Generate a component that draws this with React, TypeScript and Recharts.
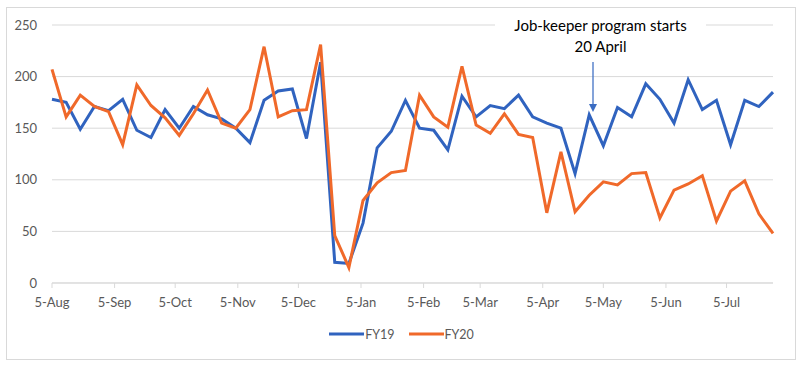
import React from "react";
import { LineChart, Line, XAxis, YAxis, CartesianGrid, Legend } from "recharts";

// weekly points, as day offsets from 5-Aug
const weekDays = Array.from({ length: 52 }, (_, i) => i * 7);

const fy19 = [
  178, 175, 149, 171, 167, 178, 148, 141, 168, 150, 171, 163, 159, 150, 136, 177,
  186, 188, 140, 214, 20, 19, 58, 131, 147, 177, 150, 148, 129, 181, 161, 172,
  169, 182, 161, 155, 150, 106, 163, 133, 170, 161, 193, 178, 155, 197, 168, 177,
  134, 177, 171, 185,
];

const fy20 = [
  207, 161, 182, 171, 166, 134, 192, 172, 160, 143, 164, 187, 155, 150, 168, 229,
  161, 167, 168, 231, 46, 15, 80, 97, 107, 109, 182, 161, 151, 210, 153, 145,
  164, 144, 141, 68, 127, 69, 85, 98, 95, 106, 107, 63, 90, 96, 104, 60,
  89, 99, 67, 48,
];

const tickDays = [0, 31, 61, 92, 122, 153, 184, 212, 243, 273, 304, 334];
const tickLabels = ["5-Aug", "5-Sep", "5-Oct", "5-Nov", "5-Dec", "5-Jan", "5-Feb", "5-Mar", "5-Apr", "5-May", "5-Jun", "5-Jul"];
const yTicks = [0, 50, 100, 150, 200, 250];

const BLUE = "#3063bf";
const ORANGE = "#f0692a";
const FONT = "Lato, 'Noto Sans', sans-serif";

const data = weekDays.map((day, i) => ({ day, FY19: fy19[i], FY20: fy20[i] }));

function formatDay(value: number) {
  const idx = tickDays.indexOf(value);
  return idx >= 0 ? tickLabels[idx] : "";
}

function LegendContent() {
  const items = [
    { name: "FY19", color: BLUE },
    { name: "FY20", color: ORANGE },
  ];
  return (
    <div style={{ display: "flex", justifyContent: "center", alignItems: "center", height: 20, paddingLeft: 3, fontFamily: FONT, fontSize: 12.5, color: "#595959" }}>
      {items.map((it) => (
        <div key={it.name} style={{ display: "flex", alignItems: "center", margin: "0 7px" }}>
          <svg width={35} height={4} style={{ marginRight: 1 }}>
            <line x1={0} y1={2} x2={35} y2={2} stroke={it.color} strokeWidth={3} />
          </svg>
          <span>{it.name}</span>
        </div>
      ))}
    </div>
  );
}

export default function App() {
  return (
    <div style={{ position: "absolute", left: 0, top: 0, width: 800, height: 366, background: "#fff", fontFamily: FONT }}>
      <div style={{ position: "absolute", left: 6, top: 7, width: 788, height: 351, border: "1px solid #d9d9d9" }} />
      <div style={{ position: "absolute", left: 0, top: 0 }}>
        <LineChart width={800} height={366} data={data} margin={{ top: 25, right: 27, bottom: 22, left: 0 }}>
          <CartesianGrid vertical={false} stroke="#d9d9d9" />
          <XAxis
            dataKey="day"
            type="number"
            domain={[0, 357]}
            ticks={tickDays}
            tickFormatter={formatDay}
            interval={0}
            height={41}
            stroke="#d9d9d9"
            tickSize={5}
            tickMargin={10}
            tick={{ fill: "#595959", fontSize: 13, fontFamily: FONT }}
          />
          <YAxis
            domain={[0, 250]}
            ticks={yTicks}
            width={52}
            axisLine={false}
            tickLine={false}
            tickSize={0}
            tickMargin={15}
            tick={{ fill: "#595959", fontSize: 13, fontFamily: FONT }}
          />
          <Legend
            verticalAlign="bottom"
            height={20}
            wrapperStyle={{ left: 0, width: 800 }}
            content={<LegendContent />}
          />
          <Line type="linear" dataKey="FY19" stroke={BLUE} strokeWidth={3} dot={false} isAnimationActive={false} />
          <Line type="linear" dataKey="FY20" stroke={ORANGE} strokeWidth={3} dot={false} isAnimationActive={false} />
        </LineChart>
      </div>
      <div
        style={{
          position: "absolute",
          left: 495,
          top: 15,
          width: 211,
          background: "#fff",
          textAlign: "center",
          fontSize: 15,
          lineHeight: "21px",
          color: "#000",
        }}
      >
        <div>Job-keeper program starts</div>
        <div>20 April</div>
      </div>
      <svg style={{ position: "absolute", left: 0, top: 0 }} width={800} height={366} pointerEvents="none">
        <line x1={593} y1={62} x2={593} y2={105} stroke="#3a6cc2" strokeWidth={1.25} />
        <polygon points="589,104 597,104 593,112" fill="#3a6cc2" />
      </svg>
    </div>
  );
}
